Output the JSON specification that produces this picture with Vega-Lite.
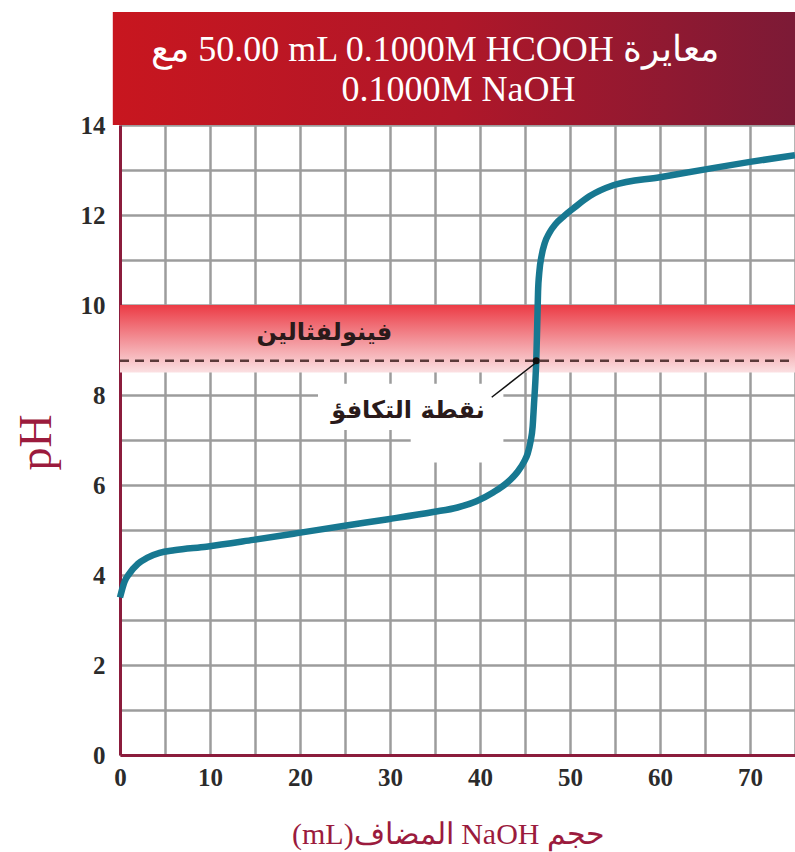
{
  "$schema": "https://vega.github.io/schema/vega-lite/v6.json",
  "autosize": {"type": "none"},
  "width": 675,
  "height": 630,
  "padding": {"left": 120, "top": 125, "right": 0, "bottom": 97},
  "background": "white",
  "config": {"view": {"stroke": null}},
  "datasets": {
    "banner": [{"x": -0.8, "x2": 75, "y": 14, "y2": 16.51}],
    "band": [{"x": 0, "x2": 75, "y": 8.5, "y2": 10}],
    "backdrop": [
      {"x": 22, "x2": 42.6, "y": 7.22, "y2": 8.25},
      {"x": 32.3, "x2": 42.6, "y": 6.5, "y2": 7.22}
    ],
    "dash": [{"x": 0, "x2": 75, "y": 8.76, "y2": 8.76}],
    "leader": [{"x": 46.1, "x2": 41.3, "y": 8.7, "y2": 7.95}],
    "curve": [
      {"x": 0, "y": 3.5}, {"x": 0.5, "y": 3.85}, {"x": 1, "y": 4.02}, {"x": 2, "y": 4.25},
      {"x": 3, "y": 4.38}, {"x": 4.4, "y": 4.49}, {"x": 6, "y": 4.55}, {"x": 9.6, "y": 4.63},
      {"x": 14.8, "y": 4.78}, {"x": 19.7, "y": 4.93}, {"x": 24.8, "y": 5.09}, {"x": 29.8, "y": 5.24},
      {"x": 34.8, "y": 5.4}, {"x": 37.5, "y": 5.5}, {"x": 39.6, "y": 5.64}, {"x": 41.5, "y": 5.84},
      {"x": 43.0, "y": 6.05}, {"x": 44.2, "y": 6.3}, {"x": 44.9, "y": 6.52}, {"x": 45.3, "y": 6.7},
      {"x": 45.6, "y": 6.95}, {"x": 45.85, "y": 7.3}, {"x": 46.0, "y": 7.8}, {"x": 46.15, "y": 8.3},
      {"x": 46.25, "y": 8.76}, {"x": 46.35, "y": 9.5}, {"x": 46.45, "y": 10.3}, {"x": 46.6, "y": 10.75},
      {"x": 46.85, "y": 11.1}, {"x": 47.2, "y": 11.38}, {"x": 47.7, "y": 11.6}, {"x": 48.4, "y": 11.8},
      {"x": 49.3, "y": 11.97}, {"x": 50.4, "y": 12.15}, {"x": 52.2, "y": 12.42}, {"x": 54.8, "y": 12.66},
      {"x": 60, "y": 12.84}, {"x": 65.2, "y": 13.02}, {"x": 70, "y": 13.18}, {"x": 75, "y": 13.33}
    ],
    "eqpoint": [{"x": 46.25, "y": 8.76}],
    "labels": [
      {"x": 22.7, "y": 9.38, "label": "فينولفثالين"},
      {"x": 32.0, "y": 7.64, "label": "نقطة التكافؤ"}
    ],
    "titles": [
      {"x": 35.0, "y": 15.67, "label": "مع‎ 50.00 mL 0.1000M HCOOH معايرة"},
      {"x": 37.6, "y": 14.78, "label": "0.1000M NaOH"}
    ]
  },
  "encoding": {
    "x": {
      "field": "x", "type": "quantitative",
      "scale": {"domain": [0, 75], "nice": false, "zero": false},
      "axis": {
        "values": [0, 5, 10, 15, 20, 25, 30, 35, 40, 45, 50, 55, 60, 65, 70, 75],
        "labelExpr": "datum.value % 10 == 0 ? datum.label : ''",
        "grid": true, "gridColor": "#9c9c9c", "gridWidth": 2.5,
        "ticks": false,
        "domainColor": "#8b1c3c", "domainWidth": 3,
        "labelFont": "Liberation Serif", "labelFontSize": 25, "labelFontWeight": "bold", "labelColor": "#2b2b2b",
        "labelPadding": 10, "labelFlush": false,
        "title": "(mL)المضاف NaOH حجم",
        "titleFont": "Liberation Serif", "titleFontSize": 30, "titleFontWeight": "normal",
        "titleColor": "#9b1b3d", "titleX": 328, "titleY": 79, "titleBaseline": "middle"
      }
    },
    "y": {
      "field": "y", "type": "quantitative",
      "scale": {"domain": [0, 14], "nice": false, "zero": false},
      "axis": {
        "values": [0, 1, 2, 3, 4, 5, 6, 7, 8, 9, 10, 11, 12, 13, 14],
        "labelExpr": "datum.value % 2 == 0 ? datum.label : ''",
        "grid": true, "gridColor": "#9c9c9c", "gridWidth": 2.5,
        "ticks": false,
        "domainColor": "#8b1c3c", "domainWidth": 3,
        "labelFont": "Liberation Serif", "labelFontSize": 25, "labelFontWeight": "bold",
        "labelColor": "#2b2b2b", "labelPadding": 15,
        "title": "pH",
        "titleFont": "Liberation Serif", "titleFontSize": 46, "titleFontWeight": "normal",
        "titleColor": "#9b1b3d", "titleX": -84, "titleY": 317, "titleAngle": -90,
        "titleBaseline": "middle", "titleAlign": "center"
      }
    }
  },
  "layer": [
    {
      "data": {"name": "banner"},
      "mark": {"type": "rect", "fill": {"gradient": "linear", "x1": 0, "x2": 1, "y1": 0, "y2": 0,
        "stops": [{"offset": 0, "color": "#c8161f"}, {"offset": 0.5, "color": "#b01729"}, {"offset": 1, "color": "#7c1a36"}]}},
      "encoding": {"x2": {"field": "x2"}, "y2": {"field": "y2"}}
    },
    {
      "data": {"name": "band"},
      "mark": {"type": "rect", "fill": {"gradient": "linear", "x1": 0, "x2": 0, "y1": 0, "y2": 1,
        "stops": [{"offset": 0, "color": "#ec3b45"}, {"offset": 0.55, "color": "#f3979d"}, {"offset": 1, "color": "#fbe0e2"}]}},
      "encoding": {"x2": {"field": "x2"}, "y2": {"field": "y2"}}
    },
    {
      "data": {"name": "backdrop"},
      "mark": {"type": "rect", "fill": "white"},
      "encoding": {"x2": {"field": "x2"}, "y2": {"field": "y2"}}
    },
    {
      "data": {"name": "dash"},
      "mark": {"type": "rule", "stroke": "#5b3a3a", "strokeWidth": 2.5, "strokeDash": [9, 6]},
      "encoding": {"x2": {"field": "x2"}, "y2": {"field": "y2"}}
    },
    {
      "data": {"name": "curve"},
      "mark": {"type": "line", "color": "#177891", "strokeWidth": 6.5, "interpolate": "monotone"},
      "encoding": {}
    },
    {
      "data": {"name": "leader"},
      "mark": {"type": "rule", "stroke": "#111111", "strokeWidth": 1.5},
      "encoding": {"x2": {"field": "x2"}, "y2": {"field": "y2"}}
    },
    {
      "data": {"name": "eqpoint"},
      "mark": {"type": "point", "filled": true, "color": "#111111", "size": 50, "opacity": 1},
      "encoding": {}
    },
    {
      "data": {"name": "labels"},
      "mark": {"type": "text", "font": "DejaVu Sans", "fontSize": 24, "fontWeight": "bold", "color": "#2a1a1a", "align": "center", "baseline": "middle"},
      "encoding": {"text": {"field": "label"}}
    },
    {
      "data": {"name": "titles"},
      "mark": {"type": "text", "font": "Liberation Serif", "fontSize": 36, "color": "white", "align": "center", "baseline": "middle"},
      "encoding": {"text": {"field": "label"}}
    }
  ]
}
